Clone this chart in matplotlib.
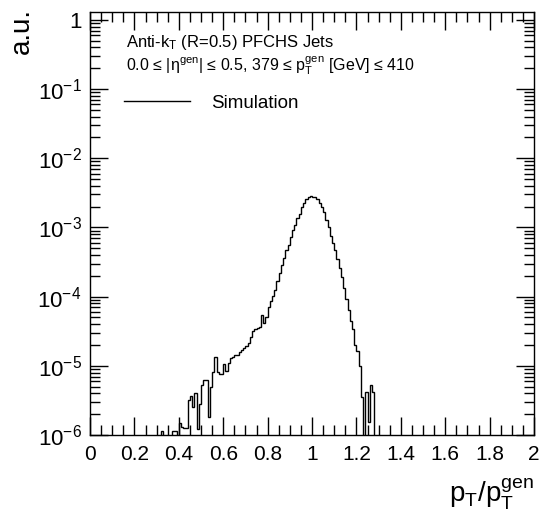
import numpy as np
import matplotlib
matplotlib.use("Agg")
import matplotlib.pyplot as plt
from matplotlib.ticker import FixedLocator, LogLocator, NullFormatter, MultipleLocator

plt.rcParams['font.family'] = ['Liberation Sans', 'DejaVu Sans']
plt.rcParams['mathtext.fontset'] = 'custom'
plt.rcParams['mathtext.rm'] = 'Liberation Sans'
plt.rcParams['mathtext.it'] = 'Liberation Sans:italic'
plt.rcParams['mathtext.default'] = 'regular'

# ---- data ----
first_bin_low = 0.32
bin_width = 0.01
# bin contents, consecutive bins starting at first_bin_low
contents = [
    1.15e-6, 0, 0, 0, 0, 1.15e-6, 1.15e-6, 0,          # 0.32 - 0.39
    1.51e-6, 1.32e-6, 1.26e-6, 1.26e-6,                # 0.40 - 0.43
    3.16e-6, 3.63e-6, 2.51e-6, 4.07e-6, 1.23e-6, 2.82e-6,  # 0.44 - 0.49
    5.25e-6, 6.17e-6, 6.31e-6, 1.82e-6, 5.01e-6,       # 0.50 - 0.54
    8.13e-6, 1.32e-5, 8.13e-6, 7.59e-6, 7.59e-6,       # 0.55 - 0.59
    1.07e-5, 8.32e-6, 1.10e-5, 1.29e-5, 1.35e-5,       # 0.60 - 0.64
    1.41e-5, 1.45e-5, 1.58e-5, 1.70e-5, 1.82e-5,       # 0.65 - 0.69
    1.95e-5, 2.14e-5, 2.57e-5, 3.16e-5, 3.39e-5,       # 0.70 - 0.74
    3.55e-5, 3.63e-5, 5.37e-5, 4.17e-5, 5.01e-5,       # 0.75 - 0.79
    7.08e-5, 8.51e-5, 1.02e-4, 1.23e-4, 1.66e-4,       # 0.80 - 0.84
    2.19e-4, 2.88e-4, 3.63e-4, 4.68e-4, 5.62e-4,       # 0.85 - 0.89
    7.24e-4, 9.12e-4, 1.10e-3, 1.35e-3, 1.58e-3,       # 0.90 - 0.94
    1.95e-3, 2.29e-3, 2.57e-3, 2.75e-3, 2.82e-3,       # 0.95 - 0.99
    2.79e-3, 2.75e-3, 2.57e-3, 2.29e-3, 2.00e-3,       # 1.00 - 1.04
    1.66e-3, 1.29e-3, 1.00e-3, 7.59e-4, 6.03e-4,       # 1.05 - 1.09
    4.79e-4, 3.47e-4, 2.57e-4, 1.91e-4, 1.35e-4,       # 1.10 - 1.14
    9.12e-5, 6.31e-5, 4.47e-5, 3.39e-5, 2.00e-5,       # 1.15 - 1.19
    1.66e-5, 1.00e-5, 3.55e-6, 0,                      # 1.20 - 1.23
    4.17e-6, 1.55e-6, 5.25e-6, 4.17e-6,                # 1.24 - 1.27
]
x_major_ticks = [0, 0.2, 0.4, 0.6, 0.8, 1.0, 1.2, 1.4, 1.6, 1.8, 2.0]
x_tick_labels = ["0", "0.2", "0.4", "0.6", "0.8", "1", "1.2", "1.4", "1.6", "1.8", "2"]
y_major_ticks = [1e-6, 1e-5, 1e-4, 1e-3, 1e-2, 1e-1, 1]
y_tick_labels = [r"$10^{-6}$", r"$10^{-5}$", r"$10^{-4}$", r"$10^{-3}$",
                 r"$10^{-2}$", r"$10^{-1}$", "1"]
legend_label = "Simulation"
line1 = r"Anti-k$_{T}$ (R=0.5) PFCHS Jets"
line2 = r"0.0 ≤ |$\eta^{gen}$| ≤ 0.5, 379 ≤ $p_{T}^{gen}$ [GeV] ≤ 410"

# ---- figure ----
W, H = 539, 516
fig = plt.figure(figsize=(W / 100, H / 100), dpi=100)
ax = fig.add_axes([90 / W, 1 - 435 / H, (534 - 90) / W, (435 - 12) / H])

n = len(contents)
edges = first_bin_low + bin_width * np.arange(n + 1)
vals = np.array(contents, dtype=float)
vals_plot = np.where(vals > 0, vals, 1e-12)
ax.stairs(vals_plot, edges, color="black", linewidth=1.0, baseline=1e-12,
          label=legend_label)

ax.set_yscale("log")
ax.set_xlim(0, 2)
ax.set_ylim(1e-6, 1.3)

ax.xaxis.set_major_locator(FixedLocator(x_major_ticks))
ax.set_xticklabels(x_tick_labels)
ax.xaxis.set_minor_locator(MultipleLocator(0.05))
ax.yaxis.set_major_locator(FixedLocator(y_major_ticks))
ax.set_yticklabels(y_tick_labels)
ax.yaxis.set_minor_locator(LogLocator(base=10, subs=np.arange(2, 10)))
ax.yaxis.set_minor_formatter(NullFormatter())

ax.tick_params(which="both", direction="in", top=True, right=True, width=1.0,
               colors="black")
ax.tick_params(which="major", length=13)
ax.tick_params(which="minor", length=7)
ax.tick_params(axis="x", which="major", labelsize=15, pad=7)
ax.tick_params(axis="y", which="major", labelsize=16, pad=6)
for s in ax.spines.values():
    s.set_linewidth(1.0)

ax.set_xlabel(r"$p_{T}/p_{T}^{gen}$", fontsize=20, loc="right", labelpad=9)
ax.set_ylabel("a.u.", fontsize=20, loc="top")
ax.yaxis.set_label_coords(-0.124, 1.01)

ax.text(0.081, 0.917, line1, transform=ax.transAxes, fontsize=12, va="baseline")
ax.text(0.081, 0.862, line2, transform=ax.transAxes, fontsize=11.5, va="baseline")

ax.legend(loc="center left", bbox_to_anchor=((124 - 90) / 444, (435 - 103) / 423),
          frameon=False, fontsize=13.5, handlelength=3.5, handletextpad=1.15,
          borderpad=0, borderaxespad=0)

fig.savefig("out.png", dpi=100)
